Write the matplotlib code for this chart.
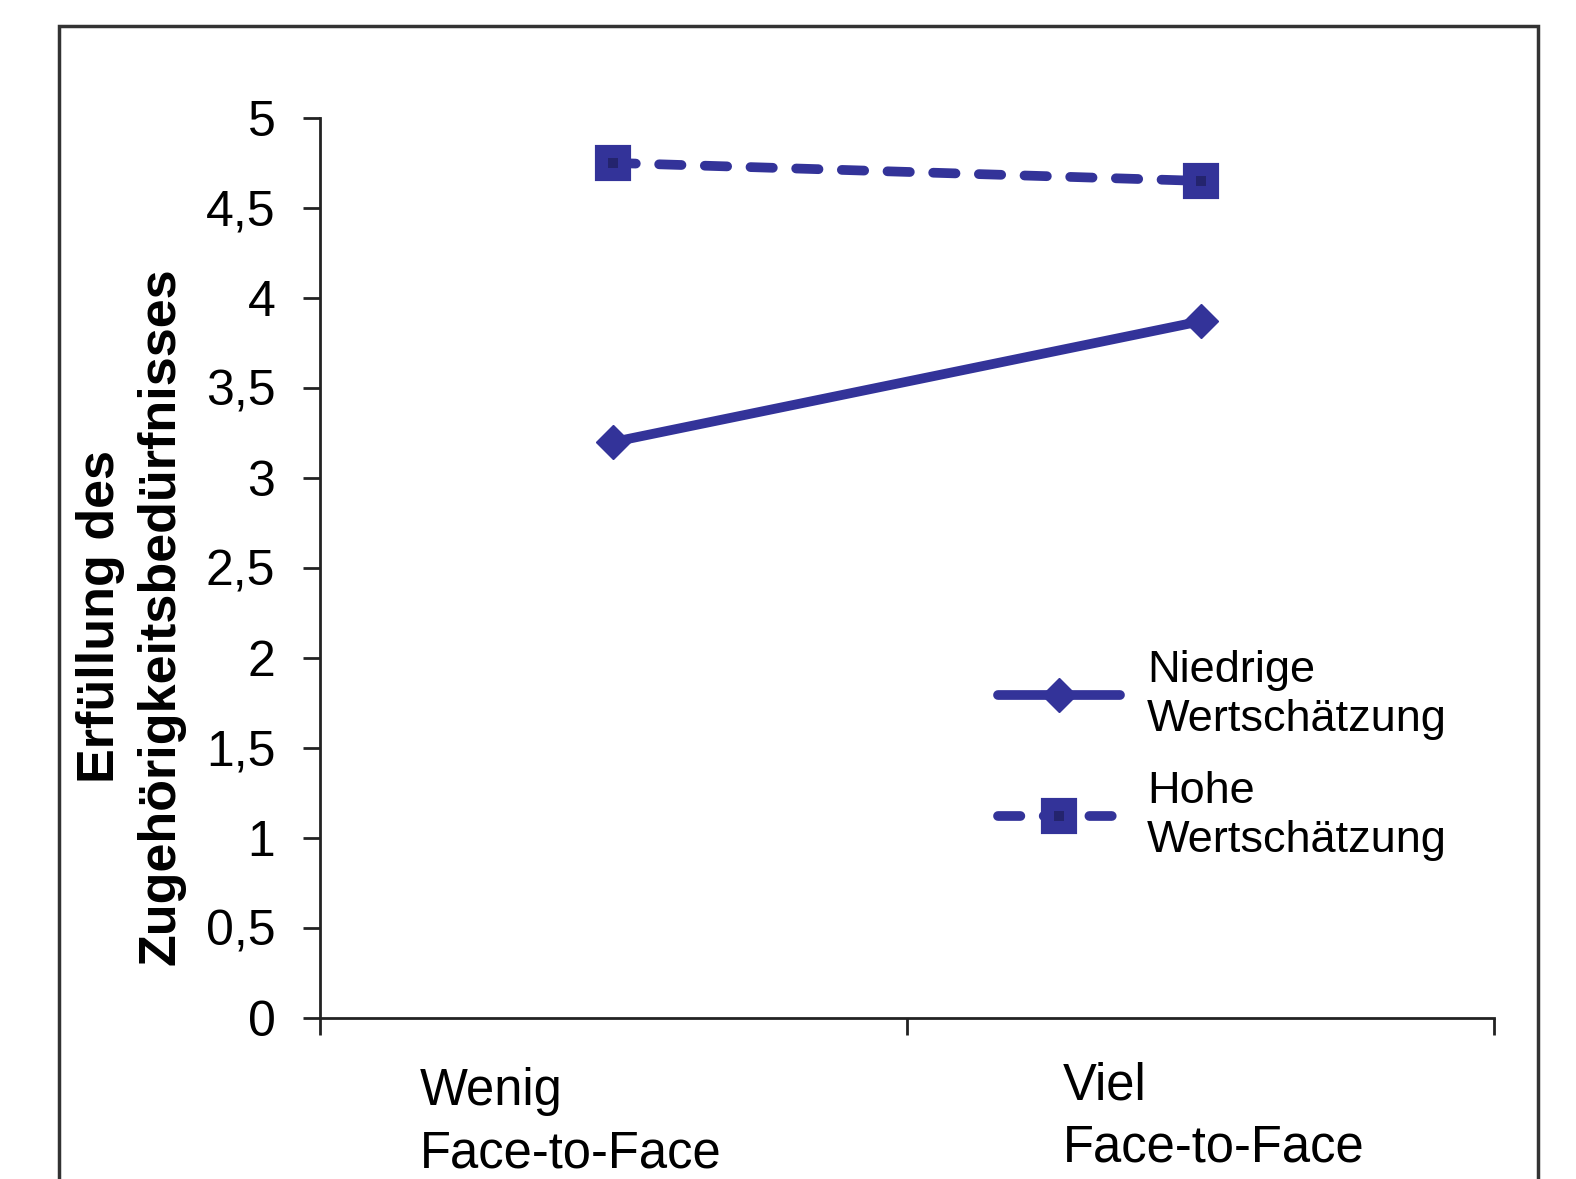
import matplotlib.pyplot as plt
from matplotlib.patches import Rectangle
from matplotlib.legend_handler import HandlerTuple

plt.rcParams['font.family'] = ['Liberation Sans', 'DejaVu Sans']

# Mittelwerte je Bedingung
conditions = ['Wenig\nFace-to-Face', 'Viel\nFace-to-Face']
niedrige = [3.2, 3.87]
hohe = [4.75, 4.65]
series_names = ['Niedrige\nWertschätzung', 'Hohe\nWertschätzung']
y_ticks = [0, 0.5, 1, 1.5, 2, 2.5, 3, 3.5, 4, 4.5, 5]

blue = '#333399'
dark = '#24246e'

fig = plt.figure(figsize=(15.76, 11.79), dpi=100)
ax = fig.add_axes([0.203, 0.1366, 0.745, 0.7634])

x = range(len(conditions))
l1, = ax.plot(x, niedrige, color=blue, lw=7, marker='D', ms=17,
              mec=blue, mew=1, solid_capstyle='round')
l2, = ax.plot(x, hohe, color=blue, lw=7, marker='s', ms=23,
              mec=blue, mew=3, dashes=(2.3, 2.4), dash_capstyle='round')
# dunkler Kern der Quadrat-Marker
l3, = ax.plot(x, hohe, ls='none', marker='s', ms=7, color=dark, mew=0)

ax.set_xlim(-0.5, 1.5)
ax.set_ylim(0, 5)
ax.set_yticks(y_ticks)
ax.set_yticklabels([f'{t:g}'.replace('.', ',') for t in y_ticks])
ax.set_xticks([-0.5, 0.5, 1.5])
ax.set_xticklabels([])

for s in ['top', 'right']:
    ax.spines[s].set_visible(False)
for s in ['left', 'bottom']:
    ax.spines[s].set_linewidth(2)
    ax.spines[s].set_color('#222222')
ax.tick_params(axis='y', direction='out', length=12, width=2, pad=20,
               labelsize=36, color='#222222')
ax.tick_params(axis='x', direction='out', length=12, width=2, color='#222222')

# Kategoriebeschriftungen linksbündig unter der Achse
label_shift = [-0.33, -0.235]
label_drop = [-0.055, -0.048]
for i, lab in enumerate(conditions):
    ax.text(i + label_shift[i], label_drop[i], lab, transform=ax.get_xaxis_transform(),
            ha='left', va='top', fontsize=36.5, linespacing=1.34)

fig.text(0.083, 0.477, 'Erfüllung des\nZugehörigkeitsbedürfnisses', rotation=90,
         ha='center', va='center', fontsize=37.5, fontweight='bold',
         multialignment='center', linespacing=1.31)

leg = ax.legend([l1, (l2, l3)], series_names, handler_map={tuple: HandlerTuple(ndivide=1)},
                loc='upper left', bbox_to_anchor=(998 / 1576, 1 - 650 / 1179),
                bbox_transform=fig.transFigure, frameon=False, fontsize=32.5,
                handlelength=2.7, handletextpad=0.6, labelspacing=0.68,
                borderpad=0, borderaxespad=0)
for t in leg.get_texts():
    t.set_linespacing(1.26)

# Rahmen um das Diagramm, unten abgeschnitten
fig.add_artist(Rectangle((59 / 1576, -0.1), (1538 - 59) / 1576, 1 - 26 / 1179 + 0.1,
                         transform=fig.transFigure, fill=False, lw=2.5,
                         ec='#333333', clip_on=False))

fig.savefig('out.png', dpi=100)
